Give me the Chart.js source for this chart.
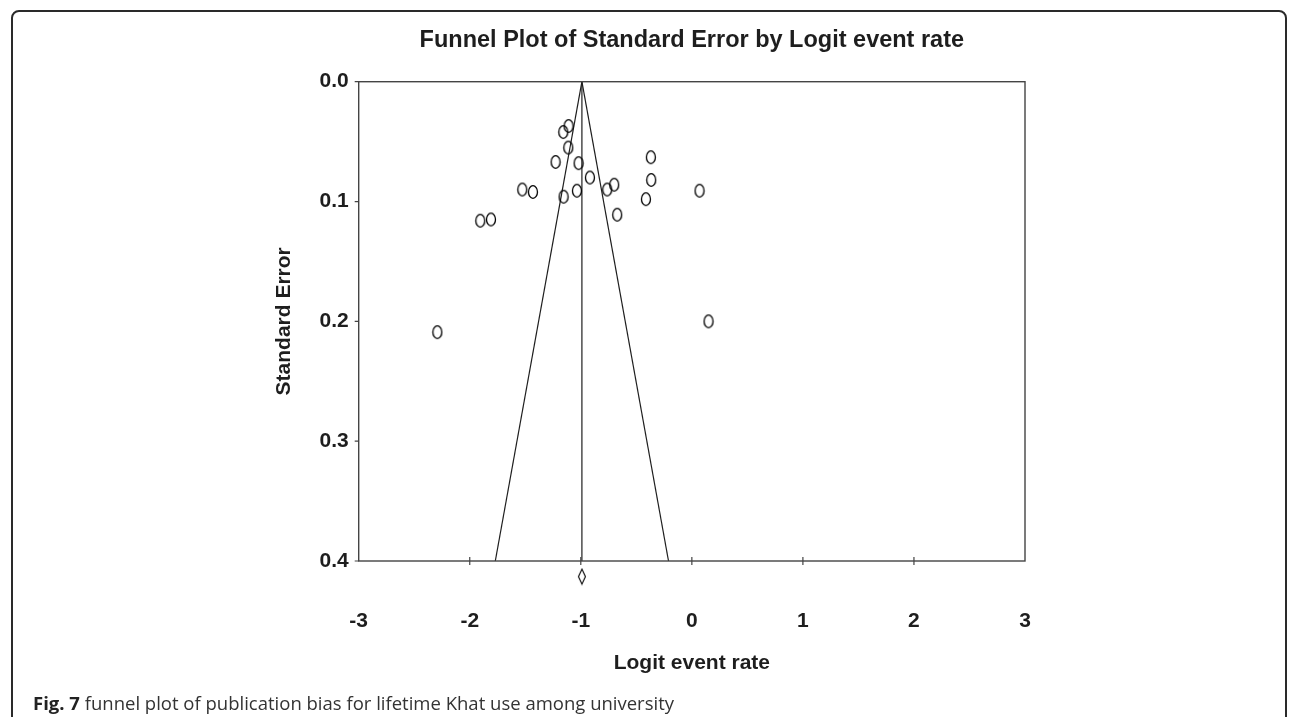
<!DOCTYPE html>
<html>
<head>
<meta charset="utf-8">
<script src="https://cdn.jsdelivr.net/npm/chart.js@4.4.1/dist/chart.umd.min.js"></script>
<style>
  html, body { margin: 0; padding: 0; background: #fff; }
  #wrap { position: relative; width: 1290px; height: 717px; overflow: hidden; }
  #frame {
    position: absolute; left: 11px; top: 10px; width: 1272px; height: 730px;
    border: 2px solid #2a2a2a; border-radius: 8px;
  }
  #caption {
    position: absolute; left: 33px; top: 691px; line-height: 24px;
    font-family: "Open Sans", sans-serif; font-size: 18.5px; color: #333; white-space: nowrap;
  }
  #caption b { font-weight: 700; color: #222; }
  #funnel { position: absolute; left: 0; top: 0; }
</style>
</head>
<body>
<div id="wrap">
  <div id="frame"></div>
  <canvas id="funnel" width="1290" height="717"></canvas>
  <div id="caption"><b>Fig. 7</b> funnel plot of publication bias for lifetime Khat use among university</div>
</div>
<script>
// study estimates
const logitRates = [-1.110, -1.158, -1.113, -1.227, -1.020, -0.918, -1.527, -1.431, -1.155, -1.035, -0.762,
  -0.699, -0.672, -0.369, -0.366, -0.414, 0.069, -1.905, -1.809, -2.292, 0.150];
const stdErrors = [0.037, 0.042, 0.055, 0.067, 0.068, 0.080, 0.090, 0.092, 0.096, 0.091, 0.090,
  0.086, 0.111, 0.063, 0.082, 0.098, 0.091, 0.116, 0.115, 0.209, 0.200];

// pooled estimate and the funnel limits at SE = 0.4
const pooledRate = -0.99;
const funnelLow = -1.77;
const funnelHigh = -0.21;
const seMax = 0.4;
const diamondSE = 0.413;

const rateTicks = [-3, -2, -1, 0, 1, 2, 3];
const seTicks = [0.0, 0.1, 0.2, 0.3, 0.4];

const ink = '#1e1e1e';
const axisFont = { family: '"Liberation Sans", Arial, sans-serif', size: 21, weight: 'bold' };

function makeEllipse() {
  const c = document.createElement('canvas');
  c.width = 12; c.height = 16;
  const g = c.getContext('2d');
  g.strokeStyle = '#000';
  g.lineWidth = 1.3;
  g.beginPath();
  g.ellipse(6, 8, 4.5, 6.3, 0, 0, Math.PI * 2);
  g.stroke();
  return c;
}

function makeDiamond() {
  const c = document.createElement('canvas');
  c.width = 10; c.height = 18;
  const g = c.getContext('2d');
  g.strokeStyle = '#000';
  g.lineWidth = 1.1;
  g.beginPath();
  g.moveTo(5, 1.5); g.lineTo(8.5, 9); g.lineTo(5, 16.5); g.lineTo(1.5, 9); g.closePath();
  g.stroke();
  return c;
}

const studies = logitRates.map((x, i) => ({ x, y: stdErrors[i] }));

// frame around the plot area plus the short tick marks
const framePlugin = {
  id: 'frame',
  afterDraw(chart) {
    const { ctx, chartArea: a, scales } = chart;
    ctx.save();
    ctx.strokeStyle = '#444';
    ctx.lineWidth = 1.4;
    ctx.strokeRect(a.left, a.top, a.right - a.left, a.bottom - a.top);
    ctx.lineWidth = 1.2;
    ctx.beginPath();
    rateTicks.slice(1, -1).forEach((v) => {
      const px = scales.x.getPixelForValue(v);
      ctx.moveTo(px, a.bottom - 4);
      ctx.lineTo(px, a.bottom + 4);
    });
    seTicks.forEach((v) => {
      const py = scales.y.getPixelForValue(v);
      ctx.moveTo(a.left - 4, py);
      ctx.lineTo(a.left, py);
    });
    ctx.stroke();
    ctx.restore();
  },
};

const ctx = document.getElementById('funnel').getContext('2d');
new Chart(ctx, {
  type: 'scatter',
  data: {
    datasets: [
      {
        label: 'Studies',
        data: studies,
        pointStyle: makeEllipse(),
        pointRadius: 6,
        showLine: false,
      },
      {
        label: 'Lower limit',
        data: [{ x: pooledRate, y: 0 }, { x: funnelLow, y: seMax }],
        showLine: true,
        borderColor: ink,
        borderWidth: 1.2,
        pointRadius: 0,
      },
      {
        label: 'Upper limit',
        data: [{ x: pooledRate, y: 0 }, { x: funnelHigh, y: seMax }],
        showLine: true,
        borderColor: ink,
        borderWidth: 1.2,
        pointRadius: 0,
      },
      {
        label: 'Pooled',
        data: [{ x: pooledRate, y: 0 }, { x: pooledRate, y: seMax }],
        showLine: true,
        borderColor: ink,
        borderWidth: 1.2,
        pointRadius: 0,
      },
      {
        // sits just under the x axis, so it needs a big radius to count as "in area"
        label: 'Pooled marker',
        data: [{ x: pooledRate, y: diamondSE }],
        pointStyle: makeDiamond(),
        pointRadius: 24,
        showLine: false,
        clip: false,
      },
    ],
  },
  options: {
    responsive: false,
    animation: false,
    layout: { padding: { left: 267.4, right: 265, top: 0, bottom: 37.4 } },
    plugins: {
      legend: { display: false },
      tooltip: { enabled: false },
      title: {
        display: true,
        fullSize: false,
        text: 'Funnel Plot of Standard Error by Logit event rate',
        color: ink,
        font: { family: '"Liberation Sans", Arial, sans-serif', size: 23.5, weight: 'bold' },
        padding: { top: 26.9, bottom: 26.6 },
      },
    },
    scales: {
      x: {
        type: 'linear',
        min: rateTicks[0],
        max: rateTicks[rateTicks.length - 1],
        grid: { display: false, drawTicks: false },
        border: { display: false },
        ticks: { stepSize: 1, padding: 47.4, color: ink, font: axisFont, callback: (v) => String(v) },
        title: { display: true, text: 'Logit event rate', color: ink, font: axisFont },
        afterFit: (scale) => { scale.height = 118.6; },
      },
      y: {
        type: 'linear',
        reverse: true,
        min: seTicks[0],
        max: seTicks[seTicks.length - 1],
        grid: { display: false, drawTicks: false },
        border: { display: false },
        ticks: { stepSize: 0.1, padding: 10, color: ink, font: axisFont, callback: (v) => v.toFixed(1) },
        title: { display: true, text: 'Standard Error', color: ink, font: axisFont },
        afterFit: (scale) => { scale.width = 91.3; },
      },
    },
  },
  plugins: [framePlugin],
});
</script>
</body>
</html>
